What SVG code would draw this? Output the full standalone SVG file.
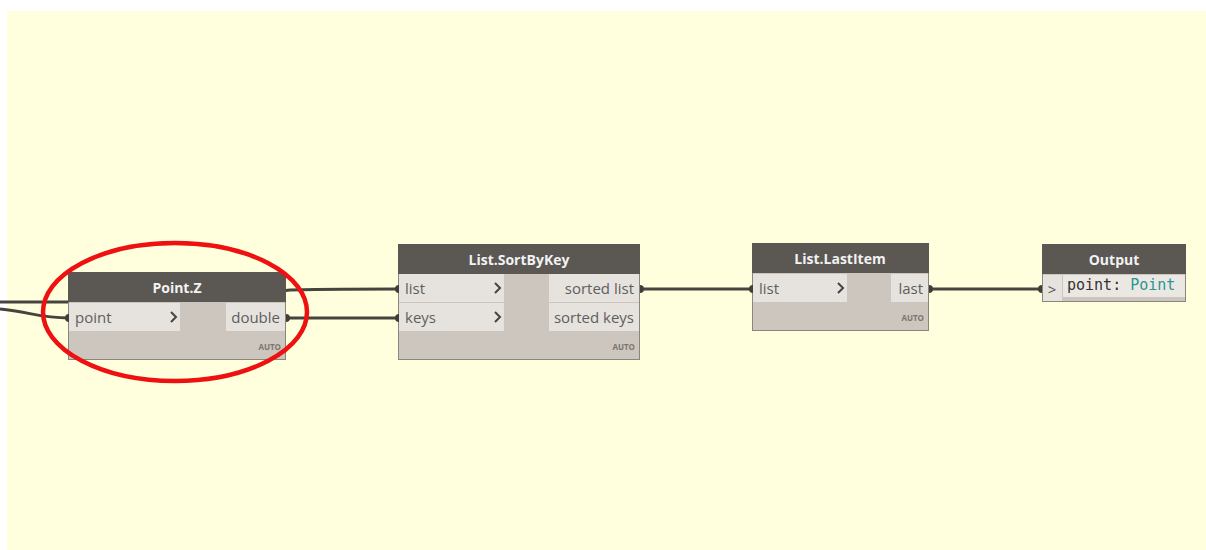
<svg xmlns="http://www.w3.org/2000/svg" width="1206" height="550" viewBox="0 0 1206 550">
<style>
.hdr{fill:#5b5752}
.body{fill:#cdc6be;stroke:#8a857f;stroke-width:1}
.port{fill:#e6e3de}
.title{font-family:"Open Sans","Liberation Sans",sans-serif;font-size:14px;font-weight:bold;fill:#f2f2f2;text-anchor:middle}
.lbl{font-family:"Open Sans","Liberation Sans",sans-serif;font-size:15px;fill:#5e5e5e}
.auto{font-family:"Open Sans","Liberation Sans",sans-serif;font-size:8px;font-weight:bold;fill:#7a7570;text-anchor:end}
.chev{fill:none;stroke:#444;stroke-width:2}
.wire{fill:none;stroke:#45443f;stroke-width:3}
.dot{fill:#3f3e3a}
.mono{font-family:"DejaVu Sans Mono","Liberation Mono",monospace;font-size:15px;fill:#333}
</style>
<rect x="0" y="0" width="1206" height="550" fill="#ffffff"/>
<rect x="7" y="11" width="1199" height="539" fill="#ffffdd"/>
<g id="connectors">
<path class="wire" d="M0,302 C150,302 150,302 200,300 L290,290 C340,289 350,289 398,289"/>
<path class="wire" d="M0,309 C30,312 40,318 69,318"/>
<path class="wire" d="M286,318 L398,318"/>
<path class="wire" d="M640,289 L752,289"/>
<path class="wire" d="M929,289 L1042,289"/>
</g>
<g id="node-pointz">
<rect class="body" x="68.500" y="272.500" width="217" height="87"/>
<rect class="hdr" x="68" y="272" width="218" height="30"/>
<text class="title" x="177" y="293">Point.Z</text>
<rect class="port" x="69" y="303" width="111" height="28"/>
<text class="lbl" x="75" y="323">point</text>
<path class="chev" d="M171,312 L176,317 L171,322"/>
<rect class="port" x="226" y="303" width="59" height="28"/>
<text class="lbl" x="280" y="323" text-anchor="end">double</text>
<text class="auto" x="281" y="350">AUTO</text>
<path class="dot" d="M69,314 A4,4 0 0 0 69,322 Z"/>
<path class="dot" d="M286,314 A4,4 0 0 1 286,322 Z"/>
</g>
<g id="node-sortbykey">
<rect class="body" x="398.500" y="244.500" width="241" height="115"/>
<rect class="hdr" x="398" y="244" width="242" height="30"/>
<text class="title" x="519" y="265">List.SortByKey</text>
<rect class="port" x="399" y="274" width="105" height="28"/>
<rect class="port" x="399" y="303" width="105" height="28"/>
<text class="lbl" x="405" y="294">list</text>
<text class="lbl" x="405" y="323">keys</text>
<path class="chev" d="M495,283 L500,288 L495,293"/>
<path class="chev" d="M495,312 L500,317 L495,322"/>
<rect class="port" x="549" y="274" width="90" height="28"/>
<rect class="port" x="549" y="303" width="90" height="28"/>
<text class="lbl" x="634" y="294" text-anchor="end">sorted list</text>
<text class="lbl" x="634" y="323" text-anchor="end">sorted keys</text>
<text class="auto" x="635" y="350">AUTO</text>
<path class="dot" d="M399,285 A4,4 0 0 0 399,293 Z"/>
<path class="dot" d="M399,314 A4,4 0 0 0 399,322 Z"/>
<path class="dot" d="M640,285 A4,4 0 0 1 640,293 Z"/>
</g>
<g id="node-lastitem">
<rect class="body" x="752.500" y="243.500" width="176" height="87"/>
<rect class="hdr" x="752" y="243" width="177" height="30"/>
<text class="title" x="840" y="264">List.LastItem</text>
<rect class="port" x="753" y="274" width="94" height="28"/>
<text class="lbl" x="759" y="294">list</text>
<path class="chev" d="M838,283 L843,288 L838,293"/>
<rect class="port" x="891" y="274" width="37" height="28"/>
<text class="lbl" x="923" y="294" text-anchor="end">last</text>
<text class="auto" x="924" y="321">AUTO</text>
<path class="dot" d="M753,285 A4,4 0 0 0 753,293 Z"/>
<path class="dot" d="M929,285 A4,4 0 0 1 929,293 Z"/>
</g>
<g id="node-output">
<rect class="body" x="1042.500" y="244.500" width="143" height="57"/>
<rect class="hdr" x="1042" y="244" width="144" height="30"/>
<text class="title" x="1114" y="265">Output</text>
<rect x="1043" y="275" width="19" height="26" fill="#e6e3de"/>
<text x="1052" y="295" font-family="Open Sans, Liberation Sans, sans-serif" font-size="15" fill="#555" text-anchor="middle">&gt;</text>
<rect x="1063" y="275" width="122" height="22" fill="#ebe8e3"/>
<text class="mono" x="1067" y="290">point: <tspan fill="#2a9595">Point</tspan></text>
<path class="dot" d="M1042,285 A4,4 0 0 0 1042,293 Z"/>
</g>
<ellipse cx="175" cy="312" rx="132" ry="69" fill="none" stroke="#ee1111" stroke-width="4.500"/>
</svg>
